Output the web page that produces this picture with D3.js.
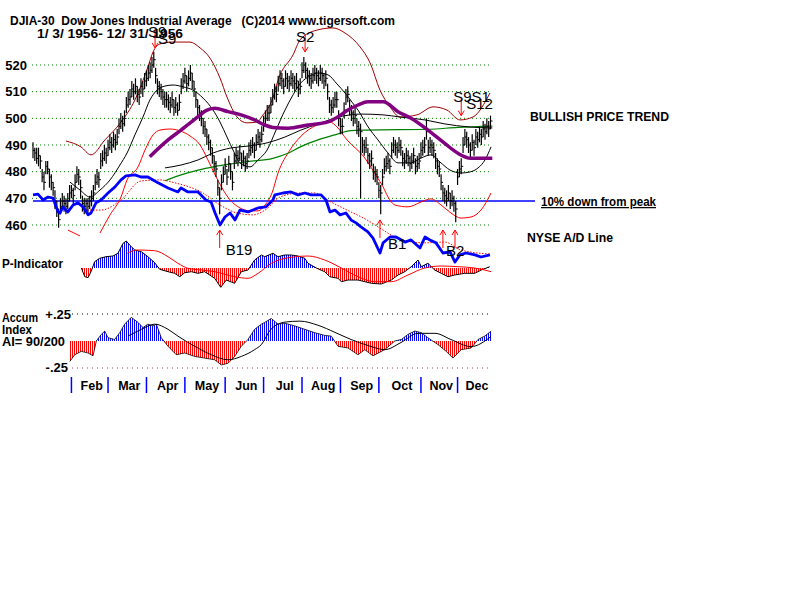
<!DOCTYPE html>
<html><head><meta charset="utf-8">
<script src="https://cdn.jsdelivr.net/npm/d3@7"></script>
<style>body{margin:0;background:#fff}svg{display:block}text{font-family:Arial,"Liberation Sans",sans-serif}</style>
</head><body><svg id="c" width="800" height="600"></svg>
<script>
// ---------- DATA (DJIA 1956, daily, trading-day index 0 = Jan 3) ----------
const closes=[
488,487,485,486,484,478,476,482,481,478, 476,474,469,466,462,467,469,468,467,469,
472,473,471,476,479,478,474,468,467,468, 467,469,470,472,476,478,477,484,485,487,
486,489,491,490,492,491,493,497,499,498, 500,505,507,508,511,510,512,509,508,512,
511,514,515,517,518,520,522,516,512,511, 510,508,507,507,506,505,507,504,505,503,
506,512,514,516,513,515,517,514,511,507, 504,502,500,497,496,493,491,489,486,483,
481,474,470,476,479,482,478,483,480,476, 484,486,485,487,484,485,483,484,488,489,
490,488,491,493,492,494,498,500,502,502, 505,508,510,509,513,515,514,512,515,514,
513,515,514,513,514,511,512,518,520,518, 516,515,514,516,517,516,515,517,516,514,
515,510,505,504,505,507,507,500,497,497, 503,508,509,504,502,500,501,497,496,495,
490,489,490,486,484,485,480,479,478,473, 472,478,482,483,484,482,488,490,489,488,
490,489,485,484,486,485,483,484,486,482, 483,484,488,489,490,495,489,490,489,488,
484,482,481,476,472,471,470,472,469,470, 468,466,478,481,482,490,493,492,490,488,
491,489,493,492,494,493,496,495,497,496,499];
const highs=[
491,489,489,489,486,481,480,484,484,481, 479,476,473,469,466,470,472,471,470,472,
475,475,474,479,482,481,477,471,470,470, 470,471,473,475,479,481,480,487,488,490,
489,492,494,493,495,494,496,500,502,501, 503,508,510,511,514,513,515,512,511,515,
514,517,518,520,521,523,525,519,515,514, 513,511,510,510,509,508,510,507,508,506,
509,515,517,519,516,518,520,517,514,510, 507,505,503,500,499,496,494,492,489,486,
484,477,474,479,482,485,481,486,483,480, 487,489,488,490,487,488,486,487,491,492,
493,491,494,496,495,497,501,503,505,505, 508,511,513,512,516,518,517,515,518,517,
516,518,517,516,517,514,515,521,523,521, 519,518,517,519,520,519,518,520,519,517,
518,513,508,507,508,510,510,503,500,500, 506,511,512,507,505,503,504,500,499,498,
493,492,493,489,487,488,483,482,481,476, 475,481,485,486,487,485,491,493,492,491,
493,492,488,487,489,488,486,487,489,485, 486,487,491,492,493,500,492,493,492,491,
487,485,484,479,475,474,473,475,472,473, 471,469,481,484,485,493,496,495,493,491,
494,492,496,495,497,496,499,498,500,499,501];
const lows=[
485,484,483,482,481,476,473,479,479,474, 473,471,466,463,459,464,466,465,464,466,
469,470,468,473,476,475,470,465,464,465, 464,466,467,469,473,475,474,481,482,484,
483,486,488,487,489,488,490,494,496,495, 497,502,504,505,508,507,509,506,505,509,
508,511,512,514,515,517,519,513,509,508, 507,505,504,504,503,502,504,501,502,501,
503,509,511,513,510,512,514,511,508,504, 501,499,497,494,493,490,488,486,483,480,
478,471,464,473,476,479,475,480,477,473, 481,483,482,484,481,482,480,481,485,486,
487,485,488,490,489,491,495,497,499,499, 502,505,507,506,510,512,511,509,512,511,
510,512,511,510,511,508,509,515,517,515, 513,512,511,513,514,513,512,514,513,511,
512,507,502,501,502,504,504,497,494,494, 500,505,506,501,499,497,498,494,493,470,
487,486,487,483,481,482,477,476,475,470, 464,475,479,480,481,479,485,487,486,485,
487,486,482,481,483,482,480,481,483,479, 480,481,485,486,487,492,486,487,486,485,
481,479,478,473,469,468,467,469,466,467, 465,461,475,478,479,487,490,489,487,485,
488,486,490,489,491,490,493,492,494,493,496];
const priceTicks=[460,470,480,490,500,510,520];
const monthNames=["Feb","Mar","Apr","May","Jun","Jul","Aug","Sep","Oct","Nov","Dec"];
const monthStartDays=[21,41,62,83,105,126,147,168,189,212,232];
const lastDay=251;
const tenPctLevel=469;
// overlay lines: [day, value]
const adLine=[[0,471.3],[2.7,471.6],[5.5,469.4],[8.2,470.5],[10.9,470.1],[13.7,464.9],[14.8,464.5],[16.4,466.8],[19.1,464.9],[21.9,467.5],[24.6,468.3],[27.3,466.8],[30.1,463.8],[31.7,464.5],[34.4,468.3],[37.2,469.4],[41,472],[44.8,474.3],[48.1,476.9],[50.8,478.4],[55.7,478.8],[59,478],[62.8,478],[65.6,476.9],[68.3,475.8],[73.8,473.9],[79.2,472.4],[80.9,473.9],[84.7,472.4],[90.2,472.4],[94.5,469.4],[97.3,468.6],[99.5,464.5],[102.2,460],[104.9,463],[107.7,464.5],[110.4,461.9],[113.1,465.6],[117.5,464.9],[123,466.4],[127.3,466.8],[131.1,469.4],[132.2,471.3],[136.6,472],[141,472.4],[144.8,471.3],[148.6,472],[151.9,471.3],[157.4,471.3],[160.1,469.4],[162.3,464.9],[165,465.6],[167.8,463.8],[171,464.5],[173.8,461.9],[176.5,460.8],[179.2,459.3],[183,457.4],[185.8,455.1],[189.6,449.5],[191.3,453.3],[195.1,455.5],[198.4,455.5],[203.3,453.6],[206.6,454.4],[211.5,451.4],[214.2,455.5],[216.9,454.4],[220.2,453.3],[224,449.5],[227.9,449.9],[230.6,446.1],[233.3,448.8],[236.6,449.5],[241.5,448.8],[244.8,448],[249.7,448.8]];
const ma21=[[20.2,476.1],[25.7,473.1],[31.1,470.5],[36.6,473.1],[42.1,476.9],[47.5,482.5],[51.4,487],[55.7,493.8],[60.1,500.5],[63.9,506.9],[67.8,510.6],[72.1,512.1],[76.5,512.5],[82,511.8],[87.4,510.6],[92.9,507.6],[98.4,503.1],[102.2,498.6],[106,493],[109.8,487.4],[113.1,483.3],[118.6,481.8],[123,484.4],[127.9,488.1],[132.8,495.6],[137.7,503.1],[142.1,508.8],[146.4,513.3],[151.4,515.9],[155.7,517],[161.2,516.3],[166.1,512.9],[170.5,509.5],[174.3,506.1],[177.6,503.1],[183.1,496.8],[188.5,491.9],[194,487],[199.5,483.3],[206.6,483.3],[212,485.1],[217.5,486.3],[222.4,483.6],[227.9,480.6],[233.9,479.5],[238.8,479.9],[243.2,481.4],[247,484.4],[250.3,489.3]];
const ma50=[[72.1,481.4],[80.9,482.5],[90.2,484.4],[98.4,487],[108.2,488.9],[117.5,489.6],[127.9,490.8],[137.7,493],[146.4,495.6],[155.7,497.9],[165,500.1],[173.2,501.3],[179.2,501.6],[191.3,501.3],[200.5,500.5],[214.2,499.4],[225.1,497.9],[237.7,496.8],[251,496.4]];
const ma65=[[63.8,485.6],[73.8,491.9],[80.9,495.6],[90.2,500.6],[94.5,502.9],[99.3,503.8],[106.6,502.5],[113.7,501.3],[121.1,499.4],[126.6,497.5],[131.1,496.6],[139.3,496.3],[150.3,497.5],[161.2,498.7],[166.7,500.6],[172.1,503.1],[177.6,505],[183,506.2],[191.3,506.2],[199.5,502.5],[206.6,500],[215.8,495.6],[225,490.6],[232.2,486.9],[239.3,485],[251,485]];
const ma200=[[72.1,476.6],[80.9,478.8],[90.2,480.6],[99.3,481.9],[108.2,482.9],[117.5,483.8],[131.1,485],[139.3,486.9],[146.4,489.4],[155.7,491.9],[164.9,493.8],[173.8,495.4],[183,495.6],[215.8,495.9],[232.2,496.6],[251,497.1]];
const upperBand=[[18,491.5],[26.2,489.3],[31.7,486.3],[39.3,491.9],[48.1,498.6],[55.7,506.9],[62.8,519.3],[65.6,524.9],[69.4,527.9],[76.5,528.6],[85.8,528.6],[91.3,526.4],[96.7,522.6],[102.2,515.1],[106,508],[111.5,500.5],[116.9,498.3],[122.4,498.6],[125.7,501.3],[129.5,505],[135,516.3],[142.1,523.8],[145.9,529.4],[155.2,533.1],[163.9,533.9],[170.5,532],[178.7,526.8],[184.2,520.8],[189.6,510.6],[195.1,504.3],[200.5,500.5],[209.8,501.3],[218.6,504.3],[226.2,503.1],[233.3,499.4],[240.4,500.5],[249.7,509.5]];
const lowerBandEarly=[[19.1,458.1],[22.4,457],[25.7,455.9]];
const lowerBand=[[36.6,457],[42.1,463.8],[48.1,470.5],[51.4,476.9],[57.4,481.8],[61.2,488.1],[65.6,493.8],[69.4,495.6],[74.9,496],[80.3,495.3],[85.8,493.4],[91.3,490],[95.6,484.4],[99.5,478.8],[103.3,473.9],[107.7,469.4],[113.1,466.4],[118.6,465.3],[123,465.3],[126.8,467.5],[130.6,472],[133.9,479.5],[140.4,488.1],[146,493],[155.2,497.5],[162.3,498.6],[166.1,496.8],[171.6,491.9],[180.9,485.5],[188,478],[191.3,474.3],[194,470.5],[197.8,467.5],[204.9,466.8],[212,468.6],[217.5,469.8],[223,467.5],[228.4,464.5],[233.9,462.6],[239.3,463],[244.8,465.6],[250.3,472]];
const adSignalLine=[[29.5,465.6],[37.2,465.6],[48.1,469.4],[59,476.5],[69.4,476.9],[77.6,475.8],[92.9,472],[102.2,467.5],[111.5,464.5],[120.2,463.8],[126.8,465.6],[135,470.5],[145.9,472],[154.1,472],[160.7,469.4],[171.6,465.6],[182.5,461.9],[191.3,458.1],[201.1,454.4],[214.2,453.3],[225.1,453.6],[233.9,450.6],[250.3,449.1]];
const pIndicator=[[26.4,0],[28.3,-8.7],[30.1,-9.7],[31.7,-3.7],[33.7,6.3],[36.4,9.7],[39.9,11.3],[43.7,12],[46.4,14.7],[49.2,24.7],[51,27],[52.8,23],[55.6,18],[59.2,16.3],[62.8,11.3],[66.5,5.3],[69.2,-1.3],[73.8,-3.7],[77.4,-5.3],[80.2,-8.7],[82.9,-4.7],[86.5,-3.7],[90.2,-5.3],[93.8,-3.7],[99.3,-10.3],[102.6,-19.3],[105.6,-12],[110.2,-15.3],[113.8,-3.7],[117.5,-2],[121.1,8],[124.8,13],[126.6,11.3],[131.1,14.7],[133.9,11.3],[137.5,13],[141.1,13],[144.8,12],[148.5,9.7],[150.3,4.7],[154.8,0],[159.4,-3.7],[162.1,-8.7],[166.7,-10.3],[168.5,-13.7],[172.1,-12],[177.6,-12],[184.9,-15.3],[190.3,-16],[195.8,-12],[199.5,-7],[203.1,-3.7],[206.7,1.3],[210.4,8],[212.2,1.3],[215.8,4.7],[219.5,-2],[223.1,-5.3],[226.8,-8.7],[230.4,-7],[235.9,-5.3],[241.4,-5.3],[245,-2],[249.6,1.3]];
const pIndicatorMA=[[51.5,14.7],[57,18],[66.5,17.3],[73.8,11.3],[79.2,4.7],[84.7,-0.3],[91.9,-2],[99.3,-3.7],[110.2,-8.7],[117.5,-10.3],[123,-5.3],[130.2,4.7],[141.1,10.7],[150.3,12],[159.4,8],[168.5,0],[177.6,-8.7],[186.7,-13.7],[195.8,-13.7],[204.9,-7],[214.1,0],[223.1,2],[232.2,1.3],[241.4,0],[250.4,-3.7]];
const accumIndex=[[20.1,-0.19],[22.8,-0.127],[26.4,-0.096],[30.1,-0.111],[32.8,-0.137],[34.6,0],[37.3,0.061],[39.2,0.092],[41,0.03],[44.6,0.014],[47.4,0.077],[50.1,0.156],[53.7,0.219],[57.4,0.172],[60.1,0.124],[62.8,0.156],[65.6,0.14],[67.4,0.156],[70.1,0.03],[73.8,-0.049],[78.3,-0.127],[82.9,-0.111],[88.4,-0.143],[93.8,-0.158],[99.3,-0.174],[102.9,-0.222],[106.6,-0.206],[110.2,-0.143],[113.8,-0.049],[117.5,0.014],[121.1,0.108],[124.8,0.156],[126.6,0.172],[130.2,0.209],[133.9,0.156],[137.5,0.165],[143,0.14],[148.5,0.108],[153.9,0.077],[159.4,0.052],[163,0.045],[166.7,-0.049],[172.1,-0.064],[177.6,-0.127],[181.3,-0.08],[185.8,-0.137],[192.2,-0.08],[197.7,0],[201.3,0.014],[204.9,0.061],[208.6,0.092],[212.2,0.077],[215.8,0.03],[221.3,-0.033],[225.8,-0.096],[229.5,-0.158],[234,-0.08],[239.5,-0.064],[243.2,0.014],[246.8,0.045],[250.4,0.092]];
const accumMA=[[51.9,0.045],[59.2,0.108],[66.5,0.156],[73.8,0.108],[79.2,0.045],[88.4,-0.049],[97.4,-0.127],[106.6,-0.174],[113.8,-0.143],[121.1,-0.08],[124.8,-0.033],[130,0.108],[137.7,0.175],[145.9,0.184],[155.7,0.146],[165,0.08],[173.8,0.014],[183.1,-0.042],[192.3,-0.08],[201.1,-0.014],[210.4,0.071],[219.7,0.071],[228.4,0.014],[239.3,-0.052],[250.3,0.042]];
// signals: arrow day, arrow tip (price units), direction
const signalDays=[66.7,148.7,234,102,189.6,224,230.6];
const signalTips=[526.4,524.9,501,458.1,461.9,458.1,458.1];
const signalDirs=["down","down","down","up","up","up","up"];
// signal labels: text, arrow index it belongs to
const signalLabels=["S9","S9","S2","S9S1","S12","B19","B1","B2"];
const signalLabelArrow=[0,0,1,2,2,3,4,5];

// ---------- SCALES ----------
const svg=d3.select("#c");
const x=d3.scaleLinear().domain([0,250]).range([33,490.5]);
const yP=d3.scaleLinear().domain([460,520]).range([225,65]);
const yInd=d3.scaleLinear().domain([-30,30]).range([298,238]);
const yAI=d3.scaleLinear().domain([-0.25,0.25]).range([368,314]);
const bold="bold";
// label offsets (px) from arrow tip
const labelDx=[-7,3,-9,-8,5,6,8,3];
const labelDy=[-11,-4,-10,-14,-7,25,29,26];

// ---------- TITLES ----------
svg.append("text").attr("x",10).attr("y",25).attr("font-size",13).attr("font-weight",bold)
  .attr("textLength",385).attr("lengthAdjust","spacingAndGlyphs").attr("xml:space","preserve")
  .text("DJIA-30  Dow Jones Industrial Average   (C)2014 www.tigersoft.com");
svg.append("text").attr("x",37).attr("y",37.5).attr("font-size",13).attr("font-weight",bold)
  .attr("textLength",146).attr("lengthAdjust","spacingAndGlyphs").attr("xml:space","preserve")
  .text("1/ 3/ 1956- 12/ 31/ 1956");

// ---------- PRICE PANEL ----------
svg.append("g").selectAll("line").data(priceTicks).join("line")
  .attr("x1",32).attr("x2",490).attr("y1",d=>yP(d)).attr("y2",d=>yP(d))
  .attr("stroke","#008000").attr("stroke-dasharray","1,3");
const ay=svg.append("g").attr("transform","translate(27,0)").call(d3.axisLeft(yP).tickValues(priceTicks).tickSize(0).tickPadding(0).tickFormat(d3.format("d")));
ay.select(".domain").remove();
ay.selectAll("text").attr("font-size",13).attr("font-weight",bold).attr("fill","#000").attr("font-family","Arial,'Liberation Sans',sans-serif");

svg.append("line").attr("x1",x(0)).attr("x2",535).attr("y1",yP(tenPctLevel)).attr("y2",yP(tenPctLevel))
  .attr("stroke","#0000ff").attr("stroke-width",1.5);

const ln=d3.line().x(d=>x(d[0])).y(d=>yP(d[1])).curve(d3.curveMonotoneX);
function drawLine(data,color,w,dash){const p=svg.append("path").datum(data).attr("d",ln).attr("fill","none").attr("stroke",color).attr("stroke-width",w);if(dash)p.attr("stroke-dasharray",dash);return p;}
drawLine(upperBand,"#a00000",1);
drawLine(lowerBandEarly,"#ff0000",1);
drawLine(lowerBand,"#ff0000",1);
drawLine(adSignalLine,"#ff0000",1,"1.5,1.5");
drawLine(ma200,"#008000",1.2);
drawLine(ma50,"#000000",1);
drawLine(ma21,"#000000",1);

const bars=svg.append("g");
bars.selectAll("line.hl").data(closes).join("line").attr("class","hl")
  .attr("x1",(d,i)=>x(i)).attr("x2",(d,i)=>x(i)).attr("y1",(d,i)=>yP(highs[i])).attr("y2",(d,i)=>yP(lows[i]))
  .attr("stroke","#000").attr("stroke-width",1.2);
bars.selectAll("line.cl").data(closes).join("line").attr("class","cl")
  .attr("x1",(d,i)=>x(i)).attr("x2",(d,i)=>x(i)+2).attr("y1",d=>yP(d)).attr("y2",d=>yP(d))
  .attr("stroke","#000").attr("stroke-width",1);

drawLine(ma65,"#800080",3.5);
const lnAD=d3.line().x(d=>x(d[0])).y(d=>yP(d[1]));
svg.append("path").datum(adLine).attr("d",lnAD).attr("fill","none").attr("stroke","#0000ff").attr("stroke-width",2.8).attr("stroke-linejoin","round");

// signals
const sg=svg.append("g");
signalDays.forEach((d,i)=>{
  const sx=x(d), ty=yP(signalTips[i]), down=signalDirs[i]==="down", len=18;
  const tail=down?ty-len:ty+len;
  sg.append("line").attr("x1",sx).attr("x2",sx).attr("y1",tail).attr("y2",ty).attr("stroke","#ff0000").attr("stroke-width",1);
  const hy=down?ty-5:ty+5;
  sg.append("path").attr("d",`M${sx-3},${hy}L${sx},${ty}L${sx+3},${hy}`).attr("fill","none").attr("stroke","#ff0000").attr("stroke-width",1);
});
signalLabels.forEach((t,i)=>{
  const a=signalLabelArrow[i];
  sg.append("text").attr("x",x(signalDays[a])+labelDx[i]).attr("y",yP(signalTips[a])+labelDy[i])
    .attr("font-size",15).attr("fill","#000").text(t);
});

// right-side notes
svg.append("text").attr("x",530).attr("y",121).attr("font-size",12.5).attr("font-weight",bold)
  .attr("textLength",139).attr("lengthAdjust","spacingAndGlyphs").text("BULLISH PRICE TREND");
svg.append("text").attr("x",541).attr("y",206).attr("font-size",12.5).attr("font-weight",bold)
  .attr("textLength",115).attr("lengthAdjust","spacingAndGlyphs").attr("text-decoration","underline").text("10% down from peak");
svg.append("text").attr("x",527).attr("y",242).attr("font-size",12.5).attr("font-weight",bold)
  .attr("textLength",86).attr("lengthAdjust","spacingAndGlyphs").text("NYSE A/D Line");

// ---------- patterns & clips ----------
const defs=svg.append("defs");
function stripe(id,color){const p=defs.append("pattern").attr("id",id).attr("patternUnits","userSpaceOnUse").attr("width",2).attr("height",2);
  p.append("rect").attr("x",0).attr("y",0).attr("width",1).attr("height",2).attr("fill",color);}
stripe("stB","#0000ff"); stripe("stR","#ff0000");
function clip(id,y0,y1){defs.append("clipPath").attr("id",id).append("rect").attr("x",0).attr("y",y0).attr("width",800).attr("height",y1-y0);}
clip("pPos",0,yInd(0)); clip("pNeg",yInd(0),600);
clip("aPos",0,yAI(0)); clip("aNeg",yAI(0),600);

// ---------- P-Indicator ----------
svg.append("text").attr("x",2).attr("y",268).attr("font-size",12.5).attr("font-weight",bold)
  .attr("textLength",61).attr("lengthAdjust","spacingAndGlyphs").text("P-Indicator");
const areaP=d3.area().x(d=>x(d[0])).y0(yInd(0)).y1(d=>yInd(d[1]));
svg.append("path").datum(pIndicator).attr("d",areaP).attr("fill","url(#stB)").attr("clip-path","url(#pPos)");
svg.append("path").datum(pIndicator).attr("d",areaP).attr("fill","url(#stR)").attr("clip-path","url(#pNeg)");
svg.append("path").datum(pIndicator).attr("d",d3.line().x(d=>x(d[0])).y(d=>yInd(d[1]))).attr("fill","none").attr("stroke","#000").attr("stroke-width",1);
svg.append("path").datum(pIndicatorMA).attr("d",d3.line().x(d=>x(d[0])).y(d=>yInd(d[1])).curve(d3.curveMonotoneX)).attr("fill","none").attr("stroke","#ff0000").attr("stroke-width",1);

// ---------- Accum Index ----------
const aiTicks=[0.25,-0.25];
svg.append("g").selectAll("line").data(aiTicks).join("line")
  .attr("x1",72).attr("x2",490).attr("y1",d=>yAI(d)).attr("y2",d=>yAI(d))
  .attr("stroke",d=>d>0?"#000":"#993366").attr("stroke-dasharray","1,4");
svg.append("g").selectAll("text").data(aiTicks).join("text")
  .attr("x",d=>d>0?71:68).attr("y",d=>yAI(d)+(d>0?5:4)).attr("text-anchor","end").attr("font-size",13).attr("font-weight",bold)
  .text(d=>d>0?"+.25":"-.25");
[["Accum",322,36],["Index",334,30],["AI= 90/200",346,63]].forEach(t=>{
  svg.append("text").attr("x",2).attr("y",t[1]).attr("font-size",12.5).attr("font-weight",bold)
    .attr("textLength",t[2]).attr("lengthAdjust","spacingAndGlyphs").text(t[0]);
});
const areaA=d3.area().x(d=>x(d[0])).y0(yAI(0)).y1(d=>yAI(d[1]));
svg.append("path").datum(accumIndex).attr("d",areaA).attr("fill","url(#stB)").attr("clip-path","url(#aPos)");
svg.append("path").datum(accumIndex).attr("d",areaA).attr("fill","url(#stR)").attr("clip-path","url(#aNeg)");
svg.append("path").datum(accumIndex).attr("d",d3.line().x(d=>x(d[0])).y(d=>yAI(d[1]))).attr("fill","none").attr("stroke","#000").attr("stroke-width",0.8);
svg.append("path").datum(accumMA).attr("d",d3.line().x(d=>x(d[0])).y(d=>yAI(d[1])).curve(d3.curveMonotoneX)).attr("fill","none").attr("stroke","#000").attr("stroke-width",1);

// ---------- Month axis ----------
svg.append("g").selectAll("line").data(monthStartDays).join("line")
  .attr("x1",d=>x(d)).attr("x2",d=>x(d)).attr("y1",377).attr("y2",393)
  .attr("stroke","#0000ff").attr("stroke-width",1.5);
const bounds=monthStartDays.concat([lastDay]);
svg.append("g").selectAll("text").data(monthNames).join("text")
  .attr("x",(d,i)=>(x(bounds[i])+x(bounds[i+1]))/2+2).attr("y",390).attr("text-anchor","middle")
  .attr("font-size",12.5).attr("font-weight",bold).text(d=>d);
</script></body></html>
